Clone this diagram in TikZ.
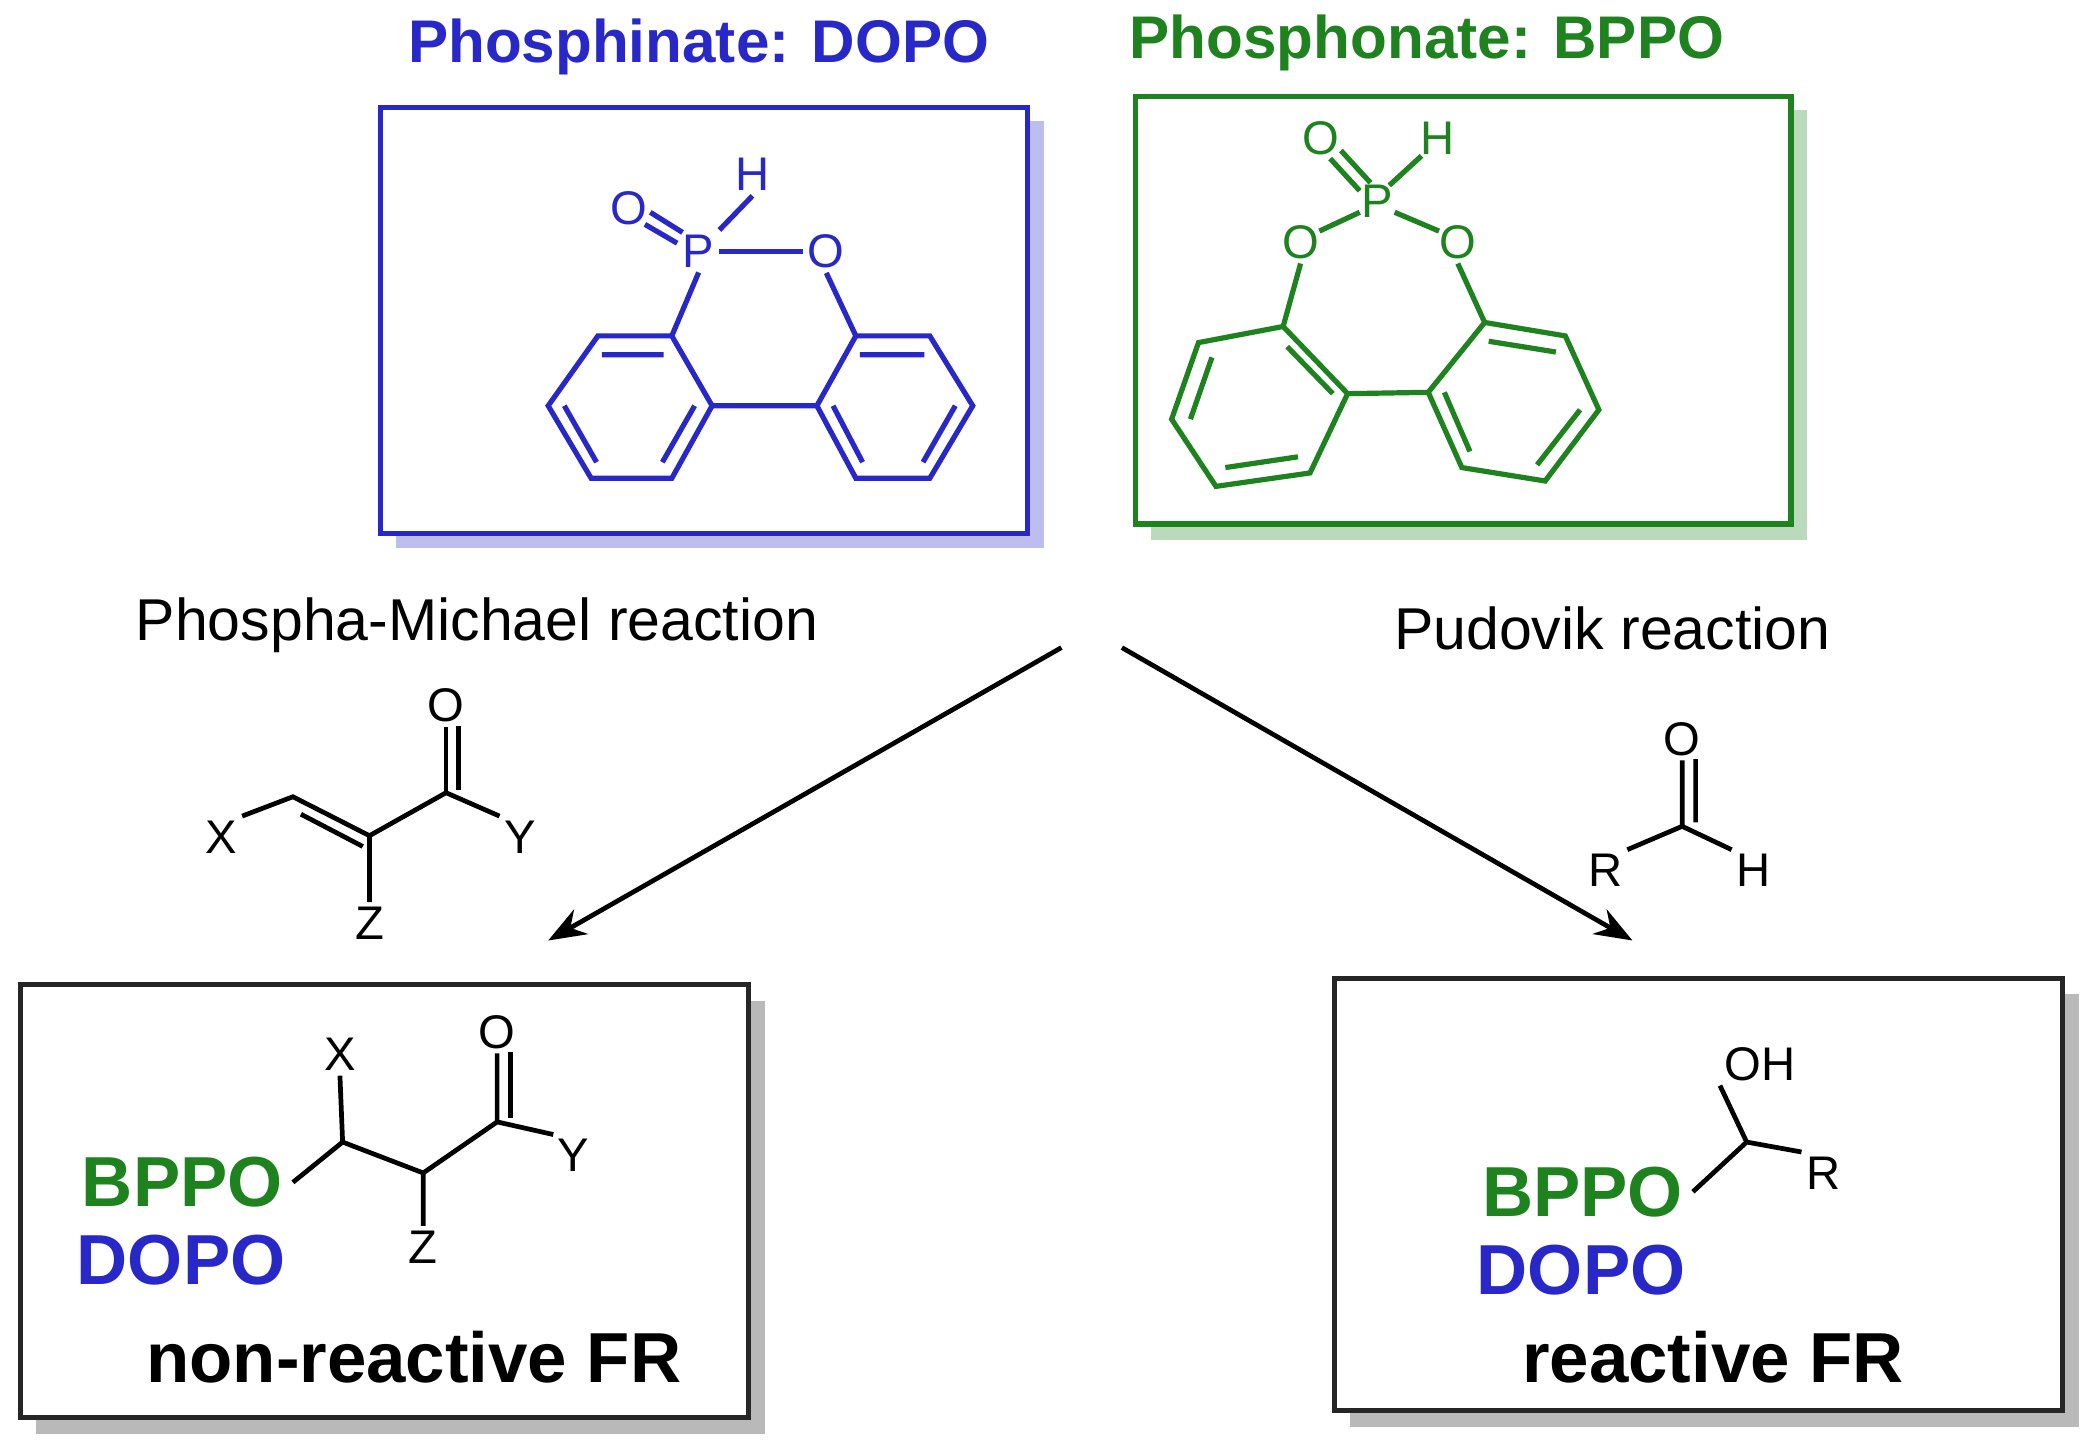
\documentclass[tikz,border=0pt]{standalone}
\usepackage{fontspec}
\setmainfont{Liberation Sans}
\usetikzlibrary{arrows.meta}
\begin{document}
\begin{tikzpicture}[x=0.02cm,y=-0.02cm,line width=2.2pt,
  atm/.style={inner sep=1pt,font=\fontsize{20}{22}\selectfont},
  big/.style={font=\fontsize{30}{34}\selectfont\bfseries},
  ttl/.style={font=\fontsize{25.5}{28}\selectfont\bfseries},
  lbl/.style={font=\fontsize{25}{28}\selectfont},
  fr/.style={font=\fontsize{30}{34}\selectfont\bfseries},
  bx/.style={line width=2.2pt,fill=white}]
\definecolor{mb}{RGB}{40,40,200}\definecolor{mg}{RGB}{30,130,30}
\useasboundingbox (0,0) rectangle (1560,1078);
% boxes
\fill[mb!30] (295,90) rectangle (777,408);
\draw[bx,draw=mb] (283,80) rectangle (765,397);
\fill[mg!30] (857,82) rectangle (1345,402);
\draw[bx,draw=mg] (845,72) rectangle (1333,390);
\fill[gray!55] (27,745) rectangle (569,1067);
\draw[bx,draw=black!85] (15,733) rectangle (557,1055);
\fill[gray!55] (1005,740) rectangle (1547,1062);
\draw[bx,draw=black!85] (993,728) rectangle (1535,1050);
\node[ttl,text=mb] (t1) at (520,35) {Phosphinate: DOPO};
\node[ttl,text=mg] (t2) at (1062,32) {Phosphonate: BPPO};
% DOPO
\begin{scope}[mb]
\node[atm,text=mb] (P1) at (520,187) {P};
\node[atm,text=mb] (O1) at (468,155) {O};
\node[atm,text=mb] (H1) at (560,130) {H};
\node[atm,text=mb] (O2) at (615,187) {O};
\draw (484,158) -- (508,173) (480,167) -- (504,181);
\draw (P1.north east) -- (H1.south);
\draw (P1.east) -- (O2.west);
\coordinate (a1) at (445,250);\coordinate (a2) at (500,250);\coordinate (a3) at (530,302);
\coordinate (a4) at (500,356);\coordinate (a5) at (440,356);\coordinate (a6) at (408,302);
\draw (a1)--(a2)--(a3)--(a4)--(a5)--(a6)--cycle;
\draw (448,264)--(494,264) (517,302)--(493,344) (444,344)--(420,302);
\coordinate (b1) at (637,250);\coordinate (b2) at (692,250);\coordinate (b3) at (724,302);
\coordinate (b4) at (692,356);\coordinate (b5) at (637,356);\coordinate (b6) at (608,302);
\draw (b1)--(b2)--(b3)--(b4)--(b5)--(b6)--cycle;
\draw (640,264)--(688,264) (711,302)--(687,344) (642,344)--(620,302);
\draw (a3)--(b6) (a2)--(P1.south) (b1)--(O2.south);
\end{scope}
% BPPO
\begin{scope}[mg]
\node[atm,text=mg] (P2) at (1025,150) {P};
\node[atm,text=mg] (O3) at (983,103) {O};
\node[atm,text=mg] (H2) at (1070,103) {H};
\node[atm,text=mg] (O4) at (968,180) {O};
\node[atm,text=mg] (O5) at (1085,180) {O};
\draw (990,118)--(1012,142) (998,112)--(1020,136);
\draw (1034,138)--(1058,116) (1012,158)--(982,172) (1038,158)--(1071,172);
\coordinate (c1) at (955,243);\coordinate (c2) at (1003,293);\coordinate (c3) at (975,352);
\coordinate (c4) at (905,362);\coordinate (c5) at (872,312);\coordinate (c6) at (892,255);
\draw (c1)--(c2)--(c3)--(c4)--(c5)--(c6)--cycle;
\draw (958,258)--(992,293) (966,340)--(912,348) (886,312)--(902,266);
\coordinate (d1) at (1105,240);\coordinate (d2) at (1165,250);\coordinate (d3) at (1190,305);
\coordinate (d4) at (1150,358);\coordinate (d5) at (1088,348);\coordinate (d6) at (1063,292);
\draw (d1)--(d2)--(d3)--(d4)--(d5)--(d6)--cycle;
\draw (1108,254)--(1158,262) (1176,305)--(1144,346) (1094,336)--(1075,292);
\draw (c2)--(d6) (c1)--(O4.south) (d1)--(O5.south);
\end{scope}
% labels & arrows
\node[lbl] (r1) at (355,465) {Phospha-Michael reaction};
\node[lbl] (r2) at (1200,468) {Pudovik reaction};
\coordinate (s1) at (790,482);\coordinate (e1) at (408,700);
\coordinate (s2) at (835,482);\coordinate (e2) at (1215,700);
\draw[-{Stealth[length=16pt,width=12pt]},line width=2pt] (s1)--(e1);
\draw[-{Stealth[length=16pt,width=12pt]},line width=2pt] (s2)--(e2);
% acrylate
\begin{scope}[line width=2pt]
\node[atm] (X1) at (165,623) {X};
\node[atm] (Y1) at (387,623) {Y};
\node[atm] (Z1) at (275,687) {Z};
\node[atm] (Oa) at (332,525) {O};
\coordinate (k1) at (218,593);\coordinate (k2) at (275,622);\coordinate (k3) at (332,590);
\draw (X1.north east)--(k1)--(k2)--(k3)--(Y1.north west) (k2)--(Z1.north);
\draw (224,606)--(270,630);
\draw (k3)--(Oa.south) (341,588)--(341,540);
% aldehyde
\node[atm] (R1) at (1195,648) {R};
\node[atm] (H3) at (1305,648) {H};
\node[atm] (Ob) at (1252,550) {O};
\coordinate (m1) at (1252,615);
\draw (R1.north east)--(m1)--(H3.north west) (m1)--(Ob.south) (1262,612)--(1262,565);
% product left
\node[big,text=mg,anchor=east] (B1) at (218,880) {BPPO};
\node[big,text=mb,anchor=east] (D1) at (220,938) {DOPO};
\node[fr] (n1) at (308,1010) {non-reactive FR};
\node[atm] (X2) at (253,785) {X};
\node[atm] (Z2) at (315,928) {Z};
\node[atm] (Oc) at (370,768) {O};
\node[atm] (Y2) at (427,860) {Y};
\coordinate (p1) at (255,850);\coordinate (p2) at (315,873);\coordinate (p3) at (370,835);
\draw (B1.east)--(p1)--(p2)--(p3)--(Y2.north west) (p1)--(X2.south) (p2)--(Z2.north) (p3)--(Oc.south) (380,832)--(380,783);
% product right
\node[big,text=mg,anchor=east] (B2) at (1260,887) {BPPO};
\node[big,text=mb,anchor=east] (D2) at (1262,945) {DOPO};
\node[fr] (n2) at (1275,1010) {reactive FR};
\node[atm] (OH) at (1310,792) {OH};
\node[atm] (R2) at (1357,873) {R};
\coordinate (q1) at (1300,850);
\draw (B2.east)--(q1)--(R2.north west) (q1)--(OH.south west);
\end{scope}
\end{tikzpicture}
\end{document}
